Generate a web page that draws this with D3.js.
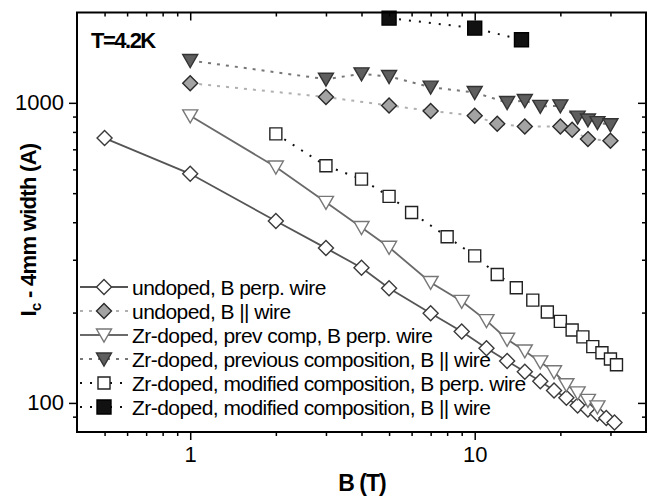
<!DOCTYPE html>
<html>
<head>
<meta charset="utf-8">
<script src="https://cdn.jsdelivr.net/npm/d3@7"></script>
<style>
  html, body { margin: 0; padding: 0; background: #fff; }
  svg { display: block; font-family: "Liberation Sans", Arial, sans-serif; }
</style>
</head>
<body>
<div id="chart"></div>
<script>
// Ic vs B, log-log, T = 4.2 K
const undopedPerpB  = [0.5, 1, 2, 3, 4, 5, 7, 9, 11, 13, 15, 17, 19, 21, 23, 25, 27, 29, 31]
const undopedPerpIc = [763, 580, 404, 328, 282, 241, 199, 173, 152, 138, 127, 118, 110, 104, 98, 95, 92, 89, 86]

const undopedParB  = [1, 3, 5, 7, 10, 12, 15, 20, 22, 25, 30]
const undopedParIc = [1163, 1045, 980, 940, 905, 851, 834, 834, 813, 757, 748]

const prevPerpB  = [1, 2, 3, 4, 5, 7, 9, 11, 13, 15, 17, 19, 21, 23, 25, 27]
const prevPerpIc = [905, 611, 466, 384, 330, 252, 218, 188, 163, 149, 137, 127, 115, 108, 102, 97]

const prevParB  = [1, 3, 4, 5, 7, 10, 13, 15, 17, 20, 23, 25, 27, 30]
const prevParIc = [1384, 1199, 1249, 1224, 1128, 1082, 1002, 1018, 973, 977, 896, 877, 859, 845]

const modPerpB  = [2, 3, 4, 5, 6, 8, 10, 12, 14, 16, 18, 20, 22, 24, 26, 28, 30, 31.5]
const modPerpIc = [788, 617, 557, 488, 431, 358, 309, 268, 242, 220, 201, 187, 175, 166, 154, 147, 140, 134]

const modParB  = [5, 10, 14.6]
const modParIc = [1916, 1774, 1622]

const legendLabels = [
  "undoped, B perp. wire",
  "undoped, B || wire",
  "Zr-doped, prev comp, B perp. wire",
  "Zr-doped, previous composition, B || wire",
  "Zr-doped, modified composition, B perp. wire",
  "Zr-doped, modified composition, B || wire"
]

const xMajor = [1, 10]
const xMinor = [0.5, 0.6, 0.7, 0.8, 0.9, 2, 3, 4, 5, 6, 7, 8, 9, 20, 30]
const yMajor = [100, 1000]
const yMinor = [90, 200, 300, 400, 500, 600, 700, 800, 900]

const width = 647, height = 496
const x = d3.scaleLog().domain([0.4, 40]).range([77, 646])
const y = d3.scaleLog().domain([80, 2000]).range([432, 12.5])

const svg = d3.select("#chart").append("svg")
  .attr("width", width).attr("height", height)
svg.append("rect").attr("width", width).attr("height", height).attr("fill", "#fff")

// marker shapes, centred on 0,0
const shapes = {
  diamond: "M0,-7.5L7.5,0L0,7.5L-7.5,0Z",
  tri: "M-7.5,-6L7.5,-6L0,7Z",
  square: "M-6,-6H6V6H-6Z",
  bigSquare: "M-7,-7H7V7H-7Z"
}

const series = [
  { b: undopedPerpB, ic: undopedPerpIc, shape: "diamond", fill: "#fff", stroke: "#3a3a3a",
    line: "#555", dash: null, lw: 1.8 },
  { b: undopedParB, ic: undopedParIc, shape: "diamond", fill: "#a3a3a3", stroke: "#2a2a2a",
    line: "#b0b0b0", dash: "3,6", lw: 2 },
  { b: prevPerpB, ic: prevPerpIc, shape: "tri", fill: "#fff", stroke: "#777",
    line: "#6a6a6a", dash: null, lw: 1.8 },
  { b: prevParB, ic: prevParIc, shape: "tri", fill: "#5e5e5e", stroke: "#333",
    line: "#777", dash: "3,6", lw: 2 },
  { b: modPerpB, ic: modPerpIc, shape: "square", fill: "#fff", stroke: "#222",
    line: "#111", dash: "2,8", lw: 2 },
  { b: modParB, ic: modParIc, shape: "bigSquare", fill: "#111", stroke: "#000",
    line: "#111", dash: "2,8", lw: 2 }
]

const line = d3.line().x(d => x(d[0])).y(d => y(d[1]))

series.forEach(s => {
  const pts = s.b.map((b, i) => [b, s.ic[i]])
  svg.append("path")
    .datum(pts)
    .attr("d", line)
    .attr("fill", "none")
    .attr("stroke", s.line)
    .attr("stroke-width", s.lw)
    .attr("stroke-dasharray", s.dash)
})

series.forEach(s => {
  const pts = s.b.map((b, i) => [b, s.ic[i]])
  svg.append("g").selectAll("path")
    .data(pts)
    .enter()
    .append("path")
    .attr("d", shapes[s.shape])
    .attr("transform", d => `translate(${x(d[0])},${y(d[1])})`)
    .attr("fill", s.fill)
    .attr("stroke", s.stroke)
    .attr("stroke-width", 1.4)
})

// axes
const tickFont = g => g.selectAll("text")
  .attr("font-size", "22px").attr("fill", "#000")
  .attr("font-family", "'Liberation Sans', Arial, sans-serif")
const noDomain = g => g.select(".domain").remove()
const tickStroke = g => g.selectAll(".tick line").attr("stroke", "#000").attr("stroke-width", 1.5)

svg.append("g").attr("transform", "translate(0,432)")
  .call(d3.axisBottom(x).tickValues(xMajor).tickSize(8).tickPadding(6).tickFormat(d3.format("d")))
  .call(noDomain).call(tickStroke).call(tickFont)
svg.append("g").attr("transform", "translate(0,432)")
  .call(d3.axisBottom(x).tickValues(xMinor).tickSize(4).tickFormat(""))
  .call(noDomain).call(tickStroke)
svg.append("g").attr("transform", "translate(0,12.5)")
  .call(d3.axisTop(x).tickValues(xMajor).tickSize(-8).tickFormat(""))
  .call(noDomain).call(tickStroke)
svg.append("g").attr("transform", "translate(0,12.5)")
  .call(d3.axisTop(x).tickValues(xMinor).tickSize(-4).tickFormat(""))
  .call(noDomain).call(tickStroke)

svg.append("g").attr("transform", "translate(77,0)")
  .call(d3.axisLeft(y).tickValues(yMajor).tickSize(8).tickPadding(5).tickFormat(d3.format("d")))
  .call(noDomain).call(tickStroke).call(tickFont)
svg.append("g").attr("transform", "translate(77,0)")
  .call(d3.axisLeft(y).tickValues(yMinor).tickSize(4).tickFormat(""))
  .call(noDomain).call(tickStroke)
svg.append("g").attr("transform", "translate(646,0)")
  .call(d3.axisRight(y).tickValues(yMajor).tickSize(-8).tickFormat(""))
  .call(noDomain).call(tickStroke)
svg.append("g").attr("transform", "translate(646,0)")
  .call(d3.axisRight(y).tickValues(yMinor).tickSize(-4).tickFormat(""))
  .call(noDomain).call(tickStroke)

// frame
svg.append("rect")
  .attr("x", 77).attr("y", 12.5)
  .attr("width", 646 - 77).attr("height", 432 - 12.5)
  .attr("fill", "none").attr("stroke", "#000").attr("stroke-width", 2)

// labels
svg.append("text")
  .attr("x", 91).attr("y", 48)
  .attr("font-size", "22px").attr("font-weight", "bold").attr("letter-spacing", "-1.5")
  .text("T=4.2K")

svg.append("text")
  .attr("x", 362).attr("y", 491)
  .attr("text-anchor", "middle")
  .attr("font-size", "23px").attr("font-weight", "bold").attr("letter-spacing", "-1")
  .text("B (T)")

const yTitle = svg.append("text")
  .attr("transform", "translate(36,230) rotate(-90)")
  .attr("text-anchor", "middle")
  .attr("font-size", "22px").attr("font-weight", "bold").attr("letter-spacing", "-0.7")
yTitle.append("tspan").text("I")
yTitle.append("tspan").attr("font-size", "15px").attr("dy", 5).text("c")
yTitle.append("tspan").attr("dy", -5).text(" - 4mm width (A)")

// legend
const legend = svg.append("g")
legendLabels.forEach((label, i) => {
  const s = series[i]
  const ly = 287 + i * 24
  legend.append("line")
    .attr("x1", 80).attr("x2", 128).attr("y1", ly).attr("y2", ly)
    .attr("stroke", s.line).attr("stroke-width", s.lw)
    .attr("stroke-dasharray", s.dash)
  legend.append("path")
    .attr("d", shapes[s.shape])
    .attr("transform", `translate(104,${ly})`)
    .attr("fill", s.fill).attr("stroke", s.stroke).attr("stroke-width", 1.4)
  legend.append("text")
    .attr("x", 132).attr("y", ly + 7.5)
    .attr("font-size", "21px").attr("letter-spacing", "-0.55")
    .text(label)
})
</script>
</body>
</html>
